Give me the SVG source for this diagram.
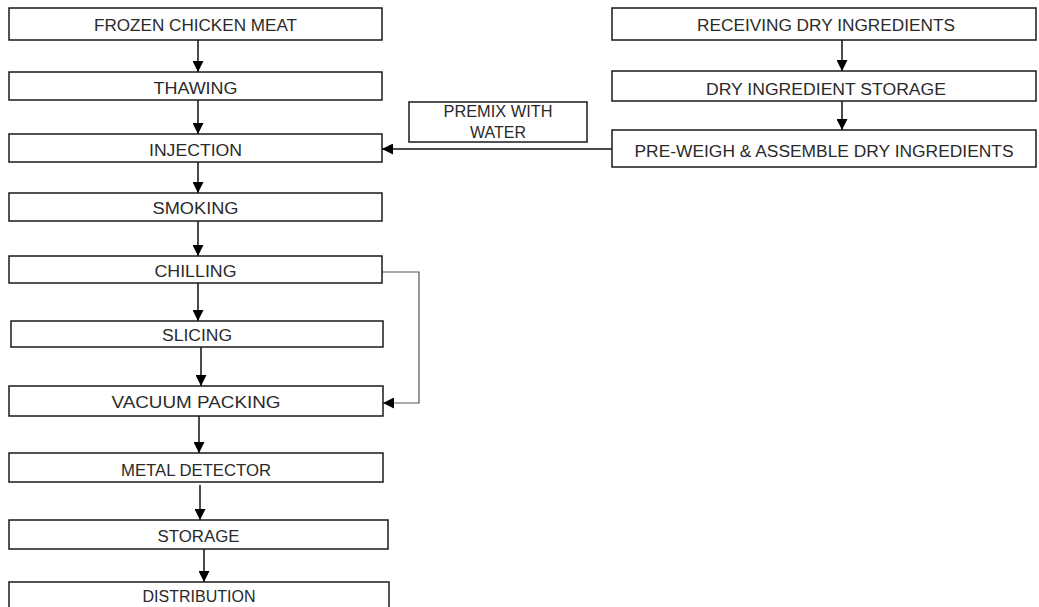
<svg xmlns="http://www.w3.org/2000/svg" width="1039" height="607" viewBox="0 0 1039 607">
<style>
  .box { fill: #ffffff; stroke: #1a1a1a; stroke-width: 1.5; }
  .lbl { font-family: "Liberation Sans", Arial, sans-serif; font-size: 16px; fill: #2a2a2a; text-anchor: middle; }
  .con { fill: none; stroke: #111111; stroke-width: 1.5; }
  .thin { fill: none; stroke: #555555; stroke-width: 1.2; }
</style>
<defs>
  <marker id="ah" viewBox="0 0 11 11" refX="11" refY="5.5" markerWidth="11" markerHeight="11" orient="auto" markerUnits="userSpaceOnUse">
    <path d="M0,0 L11,5.5 L0,11 Z" fill="#000000"/>
  </marker>
</defs>
<rect width="1039" height="607" fill="#ffffff"/>

<g id="connectors">
  <line class="con" x1="198" y1="40" x2="198" y2="72" marker-end="url(#ah)"/>
  <line class="con" x1="198" y1="100" x2="198" y2="134" marker-end="url(#ah)"/>
  <line class="con" x1="198" y1="162" x2="198" y2="193" marker-end="url(#ah)"/>
  <line class="con" x1="198" y1="221" x2="198" y2="256" marker-end="url(#ah)"/>
  <line class="con" x1="198" y1="283" x2="198" y2="321" marker-end="url(#ah)"/>
  <line class="con" x1="201" y1="347" x2="201" y2="386" marker-end="url(#ah)"/>
  <line class="con" x1="199" y1="416" x2="199" y2="453" marker-end="url(#ah)"/>
  <line class="con" x1="200" y1="485" x2="200" y2="520" marker-end="url(#ah)"/>
  <line class="con" x1="204" y1="549" x2="204" y2="582" marker-end="url(#ah)"/>
  <line class="con" x1="842" y1="40" x2="842" y2="71" marker-end="url(#ah)"/>
  <line class="con" x1="842" y1="101" x2="842" y2="130" marker-end="url(#ah)"/>
  <line class="con" x1="612" y1="149" x2="382" y2="149" marker-end="url(#ah)"/>
  <polyline class="thin" points="382,272 419,272 419,403 383,403" marker-end="url(#ah)"/>
</g>

<g id="frozen"><rect class="box" x="9" y="8" width="373" height="32"/><text class="lbl" x="195.5" y="31" textLength="203" lengthAdjust="spacingAndGlyphs">FROZEN CHICKEN MEAT</text></g>
<g id="thawing"><rect class="box" x="9" y="72" width="373" height="28"/><text class="lbl" x="195.5" y="94" textLength="84" lengthAdjust="spacingAndGlyphs">THAWING</text></g>
<g id="injection"><rect class="box" x="9" y="134" width="373" height="28"/><text class="lbl" x="195.5" y="156" textLength="93" lengthAdjust="spacingAndGlyphs">INJECTION</text></g>
<g id="smoking"><rect class="box" x="9" y="193" width="373" height="28"/><text class="lbl" x="195.5" y="214" textLength="86" lengthAdjust="spacingAndGlyphs">SMOKING</text></g>
<g id="chilling"><rect class="box" x="9" y="256" width="373" height="27"/><text class="lbl" x="195.5" y="277" textLength="82" lengthAdjust="spacingAndGlyphs">CHILLING</text></g>
<g id="slicing"><rect class="box" x="11" y="321" width="372" height="26"/><text class="lbl" x="197" y="341" textLength="70" lengthAdjust="spacingAndGlyphs">SLICING</text></g>
<g id="vacuum"><rect class="box" x="9" y="386" width="374" height="30"/><text class="lbl" x="196" y="408" textLength="169" lengthAdjust="spacingAndGlyphs">VACUUM PACKING</text></g>
<g id="metal"><rect class="box" x="9" y="453" width="374" height="29"/><text class="lbl" x="196" y="476" textLength="150" lengthAdjust="spacingAndGlyphs">METAL DETECTOR</text></g>
<g id="storage"><rect class="box" x="9" y="520" width="379" height="29"/><text class="lbl" x="198.5" y="542" textLength="82" lengthAdjust="spacingAndGlyphs">STORAGE</text></g>
<g id="distribution"><rect class="box" x="9" y="582" width="380" height="30"/><text class="lbl" x="199" y="602" textLength="113" lengthAdjust="spacingAndGlyphs">DISTRIBUTION</text></g>

<g id="receiving"><rect class="box" x="612" y="8" width="424" height="32"/><text class="lbl" x="826" y="31" textLength="258" lengthAdjust="spacingAndGlyphs">RECEIVING DRY INGREDIENTS</text></g>
<g id="drystorage"><rect class="box" x="612" y="71" width="424" height="30"/><text class="lbl" x="826" y="95" textLength="240" lengthAdjust="spacingAndGlyphs">DRY INGREDIENT STORAGE</text></g>
<g id="preweigh"><rect class="box" x="612" y="130" width="424" height="37"/><text class="lbl" x="824" y="157" textLength="379" lengthAdjust="spacingAndGlyphs">PRE-WEIGH &amp; ASSEMBLE DRY INGREDIENTS</text></g>
<g id="premix"><rect class="box" x="409" y="102" width="178" height="40"/><text class="lbl" x="498" y="117" textLength="109" lengthAdjust="spacingAndGlyphs">PREMIX WITH</text><text class="lbl" x="498" y="138" textLength="56" lengthAdjust="spacingAndGlyphs">WATER</text></g>
</svg>
